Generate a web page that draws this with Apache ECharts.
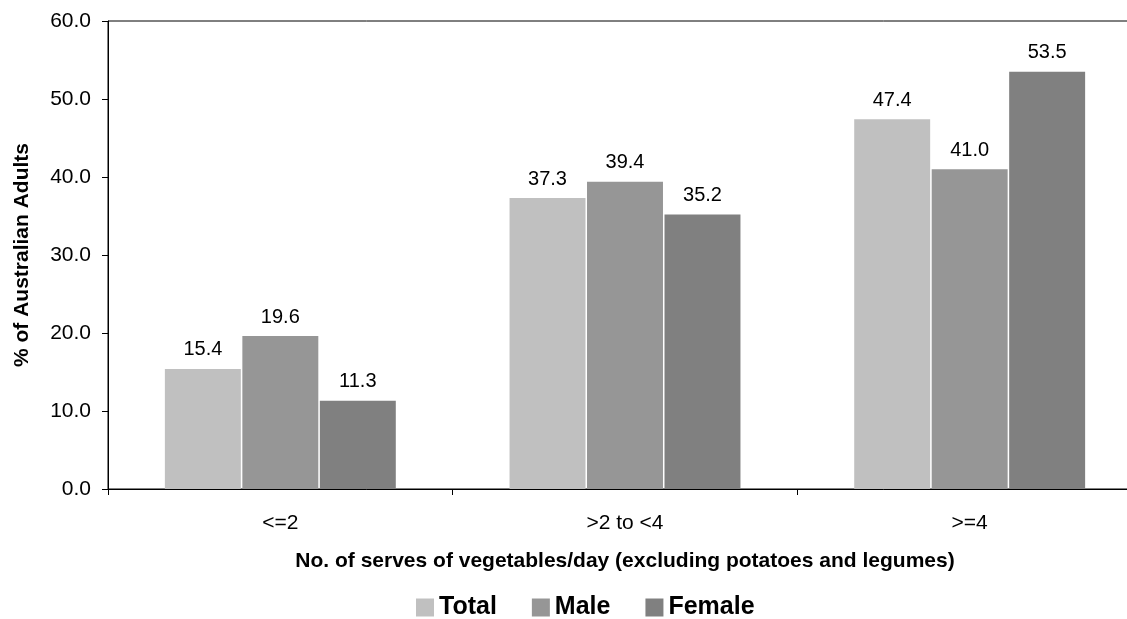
<!DOCTYPE html>
<html><head><meta charset="utf-8">
<script src="https://cdn.jsdelivr.net/npm/echarts@6/dist/echarts.min.js"></script>
<style>html,body{margin:0;padding:0;background:#fff;overflow:hidden;width:1127px;height:619px}#c{width:1143px;height:619px}</style>
</head><body><div id="c"></div>
<script>
const categories = ['<=2', '>2 to <4', '>=4'];
const seriesNames = ['Total', 'Male', 'Female'];
const totalValues = [15.4, 37.3, 47.4];
const maleValues = [19.6, 39.4, 41.0];
const femaleValues = [11.3, 35.2, 53.5];
const colors = ['#c0c0c0', '#969696', '#808080'];

const font = 'Arial, "Liberation Sans", sans-serif';
const chart = echarts.init(document.getElementById('c'), null, {renderer: 'canvas'});
const mk = (name, data, color) => ({
  name, type: 'bar', data,
  barGap: '2%', barCategoryGap: '33%',
  itemStyle: {color},
  label: {show: true, position: 'top', distance: 9, color: '#000', fontSize: 20, fontFamily: font,
    formatter: p => p.value.toFixed(1)}
});
chart.setOption({
  animation: false,
  textStyle: {fontFamily: font},
  grid: {left: 108, right: 1, top: 21, bottom: 130, show: true, borderColor: '#000', borderWidth: 1},
  legend: {
    left: 411, top: 590, itemWidth: 18, itemHeight: 18, itemGap: 35,
    icon: 'rect',
    textStyle: {fontSize: 25, fontWeight: 'bold', color: '#000', fontFamily: font},
    data: seriesNames
  },
  xAxis: {
    type: 'category', data: categories,
    axisLine: {lineStyle: {color: '#000'}},
    axisTick: {show: true, length: 6, lineStyle: {color: '#000'}},
    axisLabel: {fontSize: 21, color: '#000', margin: 24, fontFamily: font},
    name: 'No. of serves of vegetables/day (excluding potatoes and legumes)',
    nameLocation: 'middle', nameGap: 62,
    nameTextStyle: {fontSize: 21, fontWeight: 'bold', color: '#000', fontFamily: font}
  },
  yAxis: {
    type: 'value', min: 0, max: 60, interval: 10,
    axisLine: {show: true, lineStyle: {color: '#000'}},
    axisTick: {show: true, length: 6, lineStyle: {color: '#000'}},
    splitLine: {show: false},
    axisLabel: {fontSize: 21, color: '#000', margin: 17, fontFamily: font, formatter: v => v.toFixed(1)},
    name: '% of Australian Adults', nameLocation: 'middle', nameGap: 75,
    nameTextStyle: {fontSize: 21, fontWeight: 'bold', color: '#000', fontFamily: font}
  },
  series: [
    mk(seriesNames[0], totalValues, colors[0]),
    mk(seriesNames[1], maleValues, colors[1]),
    mk(seriesNames[2], femaleValues, colors[2])
  ]
});
</script></body></html>
